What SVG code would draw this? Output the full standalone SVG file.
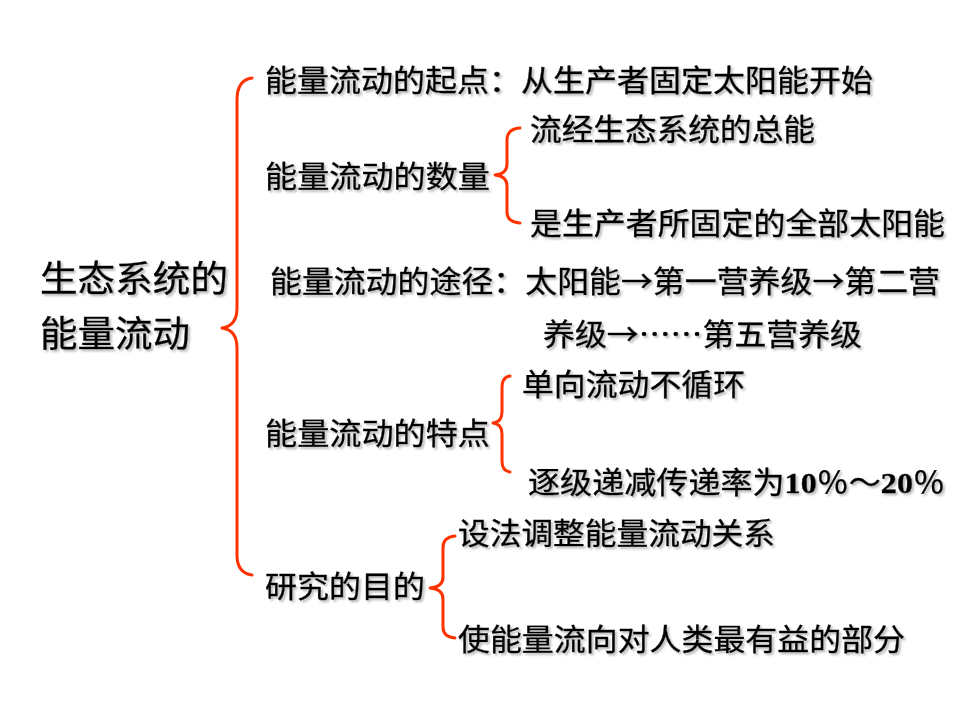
<svg xmlns="http://www.w3.org/2000/svg" width="960" height="720" viewBox="0 0 960 720">
<defs>
<filter id="sh" x="-5%" y="-20%" width="110%" height="140%">
<feDropShadow dx="2" dy="2" stdDeviation="0.8" flood-color="#808080" flood-opacity="0.55"/>
</filter>
</defs>
<style>
text{font-family:"Noto Sans CJK SC","Noto Sans CJK JP",sans-serif;font-size:30px;fill:#000;stroke:#000;stroke-width:0.4;filter:url(#sh)}
.big{font-size:36px}
.num{font-family:"Liberation Serif",serif;font-weight:bold}
.brace{fill:none;stroke:#FF3300;stroke-width:3;stroke-linecap:round;stroke-linejoin:round}
</style>
<rect width="960" height="720" fill="#fff"/>
<g id="connectors">
<path class="brace" d="M252,78 Q237,80 237,100 L237,308 Q237,326 222,328 Q237,330 237,348 L237,555 Q237,573 252,575"/>
<path class="brace" d="M520,128 Q507,129 507,140 L507,164 Q507,174 495,175 Q507,176 507,186 L507,212 Q507,222 520,223"/>
<path class="brace" d="M510,376 Q502,377 502,388 L502,412 Q502,422 493,423 Q502,424 502,434 L502,461 Q502,471 510,472"/>
<path class="brace" d="M455,536 Q443,537 443,548 L443,577 Q443,587 430,588 Q443,589 443,599 L443,627 Q443,637 455,638"/>
</g>
<g id="root">
<text class="big" x="40" y="292" textLength="188" lengthAdjust="spacingAndGlyphs">生态系统的</text>
<text class="big" x="40" y="347" textLength="150" lengthAdjust="spacingAndGlyphs">能量流动</text>
</g>
<g id="n1"><text x="265" y="91" textLength="608" lengthAdjust="spacingAndGlyphs">能量流动的起点：从生产者固定太阳能开始</text></g>
<g id="n2"><text x="265" y="187" textLength="225" lengthAdjust="spacingAndGlyphs">能量流动的数量</text></g>
<g id="n2a"><text x="530" y="140" textLength="285" lengthAdjust="spacingAndGlyphs">流经生态系统的总能</text></g>
<g id="n2b"><text x="530" y="234" textLength="415" lengthAdjust="spacingAndGlyphs">是生产者所固定的全部太阳能</text></g>
<g id="n3">
<text x="270" y="292" textLength="670" lengthAdjust="spacingAndGlyphs">能量流动的途径：太阳能→第一营养级→第二营</text>
<text x="543" y="345" textLength="319" lengthAdjust="spacingAndGlyphs">养级→……第五营养级</text>
</g>
<g id="n4"><text x="265" y="444" textLength="225" lengthAdjust="spacingAndGlyphs">能量流动的特点</text></g>
<g id="n4a"><text x="522" y="395" textLength="223" lengthAdjust="spacingAndGlyphs">单向流动不循环</text></g>
<g id="n4b"><text x="528" y="493" textLength="417" lengthAdjust="spacingAndGlyphs">逐级递减传递率为<tspan class="num">10</tspan>％～<tspan class="num">20</tspan>％</text></g>
<g id="n5"><text x="265" y="597" textLength="160" lengthAdjust="spacingAndGlyphs">研究的目的</text></g>
<g id="n5a"><text x="458" y="544" textLength="317" lengthAdjust="spacingAndGlyphs">设法调整能量流动关系</text></g>
<g id="n5b"><text x="458" y="650" textLength="447" lengthAdjust="spacingAndGlyphs">使能量流向对人类最有益的部分</text></g>
</svg>
